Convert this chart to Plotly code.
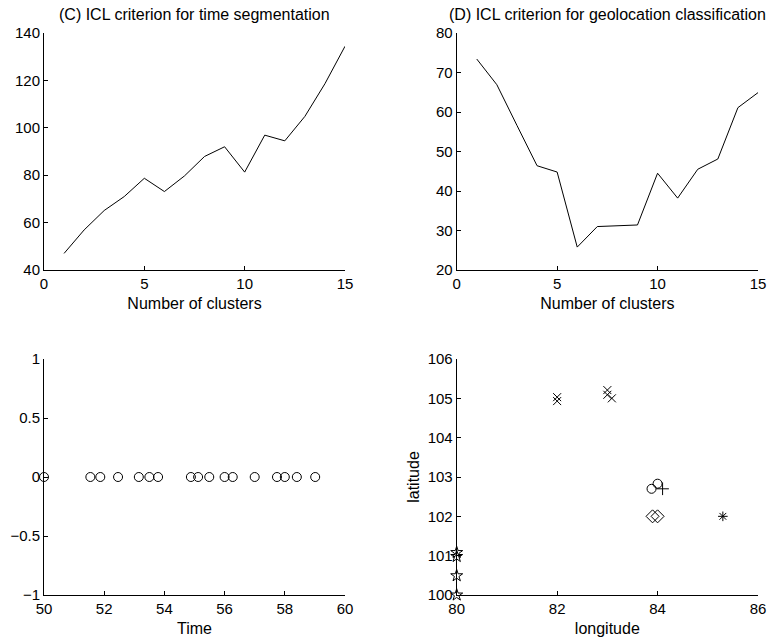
import plotly.graph_objects as go

# ---- Data ----
clusters = list(range(1, 16))
icl_time = [47.0, 56.9, 65.1, 71.0, 78.7, 73.1, 79.7, 87.9, 92.0, 81.3, 96.9, 94.5, 104.8, 118.6, 134.4]
icl_geo = [73.4, 66.9, 56.6, 46.4, 44.8, 25.8, 31.0, 31.2, 31.4, 44.5, 38.2, 45.5, 48.1, 61.1, 64.9]

times = [50.0, 51.54, 51.87, 52.46, 53.15, 53.5, 53.79, 54.88, 55.12, 55.49,
         56.0, 56.27, 57.0, 57.74, 58.0, 58.4, 59.01]
times_y = [0] * len(times)

x_lon = [82.0, 82.0, 83.0, 83.0, 83.09]
x_lat = [105.03, 104.93, 105.21, 105.09, 105.0]
circ_lon = [83.88, 84.0]
circ_lat = [102.7, 102.83]
plus_lon = [84.1]
plus_lat = [102.7]
diam_lon = [83.9, 84.0]
diam_lat = [102.0, 102.0]
ast_lon = [85.3]
ast_lat = [102.0]
star_lon = [80.0, 80.0, 80.0, 80.0]
star_lat = [101.08, 100.98, 100.49, 100.0]

FONT = "Liberation Sans, Arial, sans-serif"

fig = go.Figure()

fig.add_trace(go.Scatter(x=clusters, y=icl_time, mode="lines",
                         line=dict(color="black", width=1), xaxis="x", yaxis="y"))
fig.add_trace(go.Scatter(x=clusters, y=icl_geo, mode="lines",
                         line=dict(color="black", width=1), xaxis="x2", yaxis="y2"))
fig.add_trace(go.Scatter(x=times, y=times_y, mode="markers", cliponaxis=False,
                         marker=dict(symbol="circle-open", size=9, color="black",
                                     line=dict(width=1)),
                         xaxis="x3", yaxis="y3"))

def pts(lon, lat, sym, size):
    fig.add_trace(go.Scatter(x=lon, y=lat, mode="markers", cliponaxis=False,
                             marker=dict(symbol=sym, size=size, color="black",
                                         line=dict(width=1, color="black")),
                             xaxis="x4", yaxis="y4"))

pts(x_lon, x_lat, "x-thin-open", 8)
pts(circ_lon, circ_lat, "circle-open", 9)
pts(plus_lon, plus_lat, "cross-thin-open", 9)
pts(diam_lon, diam_lat, "diamond-open", 10)
pts(ast_lon, ast_lat, "asterisk-open", 8)
pts(star_lon, star_lat, "star-open", 9)

W, H = 771, 644
def xd(a, b):
    return [a / W, b / W]
def yd(top, bot):
    return [1 - bot / H, 1 - top / H]

axis_common = dict(showline=True, linecolor="black", linewidth=1, mirror=False,
                   ticks="inside", ticklen=4, tickcolor="black", showgrid=False,
                   zeroline=False, automargin=False,
                   tickfont=dict(family=FONT, size=15, color="black"))
TF = dict(family=FONT, size=16, color="black")

fig.update_layout(
    width=W, height=H, showlegend=False,
    paper_bgcolor="white", plot_bgcolor="white",
    margin=dict(l=0, r=0, t=0, b=0),
    font=dict(family=FONT, color="black"),
    xaxis=dict(domain=xd(44, 345), range=[0, 15], dtick=5, anchor="y",
               title=dict(text="Number of clusters", font=TF, standoff=6), **axis_common),
    yaxis=dict(domain=yd(33, 270), range=[40, 140], dtick=20, anchor="x", **axis_common),
    xaxis2=dict(domain=xd(456.7, 758), range=[0, 15], dtick=5, anchor="y2",
                title=dict(text="Number of clusters", font=TF, standoff=6), **axis_common),
    yaxis2=dict(domain=yd(33, 270), range=[20, 80], dtick=10, anchor="x2", **axis_common),
    xaxis3=dict(domain=xd(44, 345), range=[50, 60], dtick=2, anchor="y3",
                title=dict(text="Time", font=TF, standoff=6), **axis_common),
    yaxis3=dict(domain=yd(359, 595), range=[-1, 1], dtick=0.5, anchor="x3", **axis_common),
    xaxis4=dict(domain=xd(456.7, 758), range=[80, 86], dtick=2, anchor="y4",
                title=dict(text="longitude", font=TF, standoff=6), **axis_common),
    yaxis4=dict(domain=yd(359, 595), range=[100, 106], dtick=1, anchor="x4",
                title=dict(text="latitude", font=TF, standoff=4), **axis_common),
    annotations=[
        dict(text="(C) ICL criterion for time segmentation", x=(44 + 345) / 2 / W, y=1 - 15 / H,
             xref="paper", yref="paper", showarrow=False, xanchor="center", yanchor="middle",
             font=TF),
        dict(text="(D) ICL criterion for geolocation classification", x=(456.7 + 758) / 2 / W, y=1 - 15 / H,
             xref="paper", yref="paper", showarrow=False, xanchor="center", yanchor="middle",
             font=TF),
    ],
)

fig.write_html("out.html", config={"displayModeBar": False},
               post_script="document.body.style.margin='0';document.body.style.overflow='hidden';")
